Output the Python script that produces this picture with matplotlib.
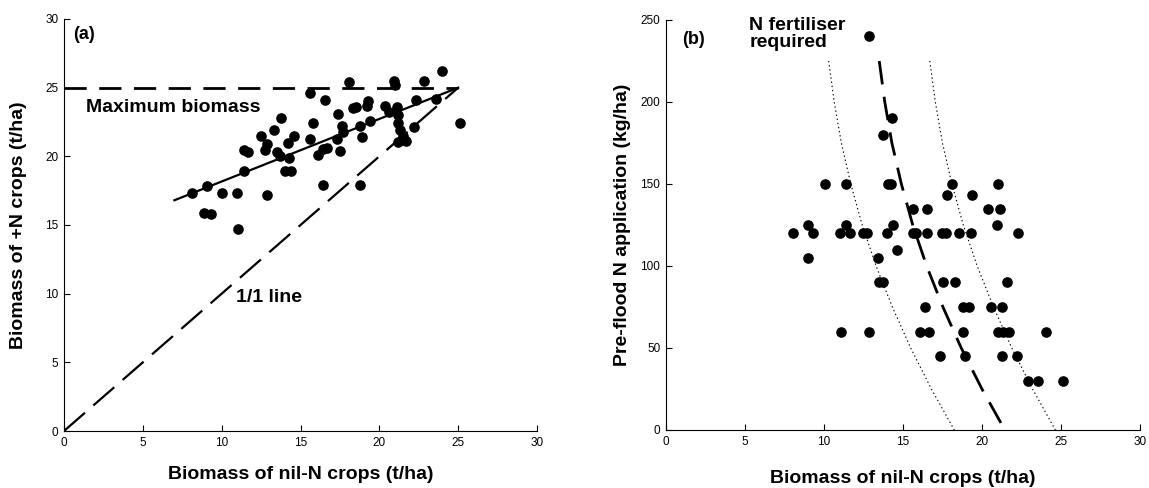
# Two-panel figure: biomass of +N vs nil-N crops (a), pre-flood N vs nil-N biomass (b)

import matplotlib
matplotlib.use('Agg')
import matplotlib.pyplot as plt

plt.rcParams['font.family'] = ['Liberation Sans', 'DejaVu Sans']
plt.rcParams['lines.scale_dashes'] = False

# panel (a) data
nil_a = [24.0, 18.1, 20.95, 21.0, 22.85, 15.6, 16.55, 23.6, 22.3, 19.3, 19.2, 18.3,
         18.55, 20.35, 21.1, 20.6, 21.2, 17.4, 15.8, 17.6, 17.7, 19.4, 18.8, 21.2,
         21.3, 22.2, 25.1, 21.5, 21.7, 21.2, 15.6, 17.3, 18.9, 16.65, 16.1, 16.45,
         17.5, 13.75, 12.5, 13.3, 14.6, 14.2, 12.85, 12.75, 11.4, 11.65, 13.5, 13.7,
         14.3, 14.0, 14.4, 11.4, 9.05, 8.1, 10.05, 11.0, 12.85, 8.9, 9.3, 11.05,
         16.4, 18.8]
plusn_a = [26.2, 25.4, 25.5, 25.2, 25.5, 24.6, 24.1, 24.2, 24.1, 24.05, 23.7, 23.5,
           23.6, 23.65, 23.6, 23.2, 23.0, 23.05, 22.45, 22.2, 21.8, 22.6, 22.2, 22.4,
           21.9, 22.1, 22.4, 21.5, 21.1, 21.05, 21.25, 21.25, 21.4, 20.6, 20.1, 20.5,
           20.4, 22.8, 21.5, 21.9, 21.5, 21.0, 20.9, 20.45, 20.45, 20.3, 20.3, 20.0,
           19.85, 18.9, 18.9, 18.9, 17.85, 17.3, 17.3, 17.3, 17.2, 15.9, 15.8, 14.7,
           17.9, 17.9]
fit_x = [7.0, 25.0]
fit_y = [16.8, 25.0]
one_to_one = [0, 25]
max_biomass = 25
max_x = [0, 25]

# panel (b) data
nil_b = [12.85, 14.3, 13.75,
         10.06, 11.4, 14.05, 14.25, 18.1, 21.0,
         17.8, 19.35,
         15.65, 16.5, 20.4, 21.15,
         9.0, 11.4, 14.35, 20.95,
         8.06, 9.3, 11.0, 11.65, 12.45, 12.7, 13.97, 15.65, 15.8, 16.55, 17.45, 17.7,
         18.55, 19.3, 22.3,
         14.6,
         8.97, 13.4,
         13.5, 13.75, 17.55, 18.3, 21.6,
         16.4, 18.8, 19.2, 20.6, 21.25,
         11.1, 12.85, 16.1, 16.65, 18.8, 21.0, 21.35, 21.7, 24.05,
         17.35, 18.9, 21.3, 22.25,
         22.9, 23.55, 25.15]
preflood_n = [240, 190, 180,
              150, 150, 150, 150, 150, 150,
              143, 143,
              135, 135, 135, 135,
              125, 125, 125, 125,
              120, 120, 120, 120, 120, 120, 120, 120, 120, 120, 120, 120,
              120, 120, 120,
              110,
              105, 105,
              90, 90, 90, 90, 90,
              75, 75, 75, 75, 75,
              60, 60, 60, 60, 60, 60, 60, 60, 60,
              45, 45, 45, 45,
              30, 30, 30]

# N fertiliser required curve and its bounds
curve_n = [225, 200, 175, 150, 125, 100, 75, 50, 25, 0]
req_mid = [13.5, 13.85, 14.3, 14.9, 15.62, 16.5, 17.53, 18.69, 20.0, 21.45]
req_low = [10.3, 10.65, 11.1, 11.7, 12.42, 13.3, 14.33, 15.49, 16.8, 18.25]
req_high = [16.7, 17.05, 17.5, 18.1, 18.82, 19.7, 20.73, 21.89, 23.2, 24.65]

fig = plt.figure(figsize=(11.49, 4.88), dpi=100)
ax1 = fig.add_axes([0.0557, 0.1168, 0.4117, 0.8443])
ax2 = fig.add_axes([0.5796, 0.1189, 0.4125, 0.8402])

label_font = dict(fontsize=14, fontweight='bold')

for ax in (ax1, ax2):
    ax.spines['top'].set_visible(False)
    ax.spines['right'].set_visible(False)
    for s in ('left', 'bottom'):
        ax.spines[s].set_linewidth(0.8)
    ax.tick_params(direction='in', length=4, width=0.8, labelsize=8.5, pad=4)
    ax.set_xlim(0, 30)
    ax.set_xticks([0, 5, 10, 15, 20, 25, 30])

# (a)
ax1.set_ylim(0, 30)
ax1.set_yticks([0, 5, 10, 15, 20, 25, 30])
ax1.plot(max_x, [max_biomass, max_biomass], color='black', lw=2, dashes=(16, 9))
ax1.plot(one_to_one, one_to_one, color='black', lw=1.6, dashes=(20, 8))
ax1.plot(fit_x, fit_y, color='black', lw=1.6)
ax1.scatter(nil_a, plusn_a, s=44, color='black', zorder=3, clip_on=False)
ax1.text(0.6, 28.9, '(a)', fontsize=13, fontweight='bold', va='center')
ax1.text(1.4, 23.55, 'Maximum biomass', va='center', **label_font)
ax1.text(10.9, 9.75, '1/1 line', va='center', **label_font)
ax1.set_xlabel('Biomass of nil-N crops (t/ha)', **label_font)
ax1.set_ylabel('Biomass of +N crops (t/ha)', **label_font)
ax1.xaxis.set_label_coords(0.5, -0.085)
ax1.yaxis.set_label_coords(-0.078, 0.5)

# (b)
ax2.set_ylim(0, 250)
ax2.set_yticks([0, 50, 100, 150, 200, 250])
ax2.plot(req_mid, curve_n, color='black', lw=2, dashes=(17, 9))
ax2.plot(req_low, curve_n, color='black', lw=0.8, linestyle=(0, (1, 2)))
ax2.plot(req_high, curve_n, color='black', lw=0.8, linestyle=(0, (1, 2)))
ax2.scatter(nil_b, preflood_n, s=44, color='black', zorder=3, clip_on=False)
ax2.text(1.0, 238, '(b)', fontsize=13, fontweight='bold', va='center')
ax2.text(5.27, 251.5, 'N fertiliser\nrequired', va='top', linespacing=0.95,
         **label_font)
ax2.set_xlabel('Biomass of nil-N crops (t/ha)', **label_font)
ax2.set_ylabel('Pre-flood N application (kg/ha)', **label_font)
ax2.xaxis.set_label_coords(0.5, -0.098)
ax2.yaxis.set_label_coords(-0.074, 0.5)

fig.savefig('out.png', dpi=100)
